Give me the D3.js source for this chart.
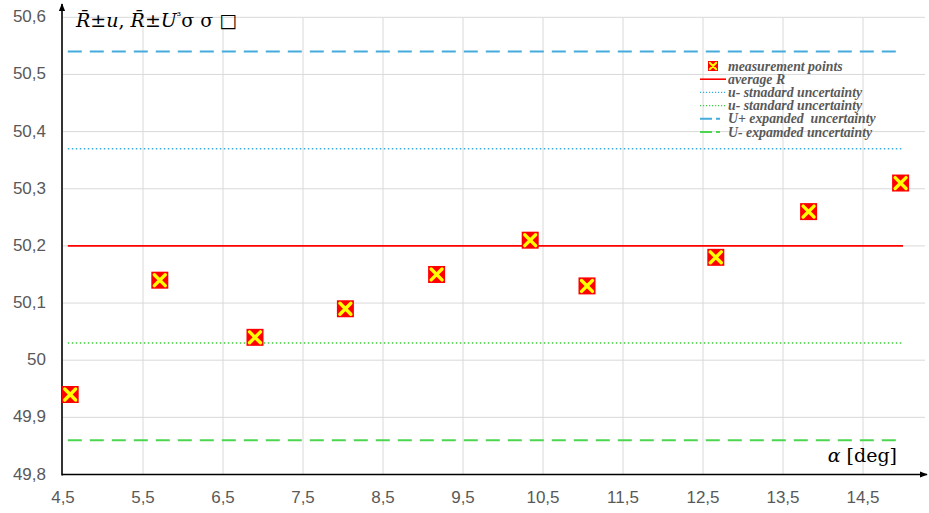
<!DOCTYPE html>
<html>
<head>
<meta charset="utf-8">
<script src="https://cdn.jsdelivr.net/npm/d3@7"></script>
<style>
  body { margin: 0; background: #fff; }
  svg { display: block; }
</style>
</head>
<body>
<div id="chart"></div>
<script>
const alpha = [4.59, 5.71, 6.9, 8.03, 9.17, 10.34, 11.05, 12.66, 13.82, 14.97];
const R     = [49.94, 50.14, 50.04, 50.09, 50.15, 50.21, 50.13, 50.18, 50.26, 50.31];

const xTicks = [4.5, 5.5, 6.5, 7.5, 8.5, 9.5, 10.5, 11.5, 12.5, 13.5, 14.5];
const yTicks = [49.8, 49.9, 50, 50.1, 50.2, 50.3, 50.4, 50.5, 50.6];

const lineSpan = [4.56, 15.0];
const refLines = [
  { name: "average R",                   value: 50.2,  color: "#ff0000", dash: null,  width: 1.6 },
  { name: "u- stnadard uncertainty",     value: 50.37, color: "#35ace0", dash: "1.5,2.5", width: 1.4 },
  { name: "u- standard uncertainty",     value: 50.03, color: "#3ccc3c", dash: "1.5,2.5", width: 1.4 },
  { name: "U+ expanded  uncertainty",    value: 50.54, color: "#45abdc", dash: "14,8", width: 2 },
  { name: "U- expamded uncertainty",     value: 49.86, color: "#4cd650", dash: "14,8", width: 2 }
];

const W = 929, H = 513;
const svg = d3.select("#chart").append("svg")
  .attr("width", W).attr("height", H);

const x = d3.scaleLinear().domain([4.5, 14.5]).range([63, 863]);
const y = d3.scaleLinear().domain([49.8, 50.6]).range([474.5, 17.3]);

// grid
svg.append("g").selectAll("line.gx")
  .data(xTicks.slice(1)).join("line")
  .attr("x1", d => x(d)).attr("x2", d => x(d))
  .attr("y1", y(50.6)).attr("y2", y(49.8))
  .attr("stroke", "#d9d9d9").attr("stroke-width", 1);

svg.append("g").selectAll("line.gy")
  .data(yTicks.slice(1)).join("line")
  .attr("x1", x(4.5)).attr("x2", 925)
  .attr("y1", d => y(d)).attr("y2", d => y(d))
  .attr("stroke", "#d9d9d9").attr("stroke-width", 1);

// tick labels
svg.append("g").selectAll("text")
  .data(yTicks).join("text")
  .attr("x", 46).attr("y", d => y(d) + 5)
  .attr("text-anchor", "end")
  .attr("font-family", "Liberation Sans, Arial, sans-serif")
  .attr("font-size", 17).attr("fill", "#595959")
  .text(d => d3.format(".1f")(d).replace(".0", "").replace(".", ","));

svg.append("g").selectAll("text")
  .data(xTicks).join("text")
  .attr("x", d => x(d)).attr("y", 503)
  .attr("text-anchor", "middle")
  .attr("font-family", "Liberation Sans, Arial, sans-serif")
  .attr("font-size", 17).attr("fill", "#595959")
  .text(d => String(d).replace(".", ","));

// reference lines
svg.append("g").selectAll("line")
  .data(refLines).join("line")
  .attr("x1", x(lineSpan[0])).attr("x2", x(lineSpan[1]))
  .attr("y1", d => y(d.value)).attr("y2", d => y(d.value))
  .attr("stroke", d => d.color)
  .attr("stroke-width", d => d.width)
  .attr("stroke-dasharray", d => d.dash);

// axes with arrows
const defs = svg.append("defs");
defs.append("marker")
  .attr("id", "arrow")
  .attr("viewBox", "0 -5 10 10")
  .attr("refX", 9).attr("refY", 0)
  .attr("markerWidth", 5).attr("markerHeight", 5)
  .attr("markerUnits", "strokeWidth")
  .attr("orient", "auto")
  .append("path").attr("d", "M0,-4L10,0L0,4").attr("fill", "#000");

svg.append("line")
  .attr("x1", x(4.5) - 1).attr("x2", 927)
  .attr("y1", y(49.8)).attr("y2", y(49.8))
  .attr("stroke", "#000").attr("stroke-width", 1.6)
  .attr("marker-end", "url(#arrow)");
svg.append("line")
  .attr("x1", x(4.5) - 1).attr("x2", x(4.5) - 1)
  .attr("y1", y(49.8) + 1).attr("y2", 4)
  .attr("stroke", "#000").attr("stroke-width", 1.6)
  .attr("marker-end", "url(#arrow)");

// markers
function drawMarker(g, cx, cy, s) {
  g.append("rect")
    .attr("x", cx - s / 2).attr("y", cy - s / 2)
    .attr("width", s).attr("height", s)
    .attr("fill", "#ff0000");
  const k = s * 0.32;
  g.append("path")
    .attr("d", `M${cx - k},${cy - k}L${cx + k},${cy + k}M${cx + k},${cy - k}L${cx - k},${cy + k}`)
    .attr("stroke", "#ffff00").attr("stroke-width", s * 0.2)
    .attr("stroke-linecap", "round");
}

const pts = svg.append("g");
alpha.forEach((a, i) => drawMarker(pts, x(a), y(R[i]), 17));

// legend
const legend = svg.append("g").attr("transform", "translate(700,66)");
const legFont = "Liberation Serif, Times New Roman, serif";
drawMarker(legend, 13, 0, 10);
legend.append("text")
  .attr("x", 28).attr("y", 4.5)
  .attr("font-family", legFont).attr("font-style", "italic").attr("font-weight", "bold")
  .attr("font-size", 13.8).attr("fill", "#595959")
  .text("measurement points");

refLines.forEach((d, i) => {
  const yy = 13.2 * (i + 1);
  legend.append("line")
    .attr("x1", 0).attr("x2", 26)
    .attr("y1", yy).attr("y2", yy)
    .attr("stroke", d.color)
    .attr("stroke-width", d.width)
    .attr("stroke-dasharray", d.dash ? (d.dash === "14,8" ? "12,4,4,10" : "1.2,1.8") : null);
  legend.append("text")
    .attr("x", 28).attr("y", yy + 4.5)
    .attr("font-family", legFont).attr("font-style", "italic").attr("font-weight", "bold")
    .attr("font-size", 13.8).attr("fill", "#595959")
    .attr("xml:space", "preserve")
    .text(d.name);
});

// axis titles
const yTitle = svg.append("text")
  .attr("x", 76).attr("y", 27)
  .attr("font-family", "DejaVu Serif, Liberation Serif, serif")
  .attr("font-size", 19).attr("fill", "#000");
yTitle.append("tspan").attr("font-style", "italic").text("R\u0304");
yTitle.append("tspan").text("\u00b1");
yTitle.append("tspan").attr("font-style", "italic").text("u");
yTitle.append("tspan").text(", ");
yTitle.append("tspan").attr("font-style", "italic").text("R\u0304");
yTitle.append("tspan").text("\u00b1");
yTitle.append("tspan").attr("font-style", "italic").text("U");
yTitle.append("tspan").attr("font-size", 11).attr("dy", -7).text("\u00b3");
yTitle.append("tspan").attr("dy", 7).text("\u03c3 \u03c3 \u25a1");

const xTitle = svg.append("text")
  .attr("x", 897).attr("y", 462)
  .attr("text-anchor", "end")
  .attr("font-family", "DejaVu Serif, Liberation Serif, serif")
  .attr("font-size", 19).attr("fill", "#000");
xTitle.append("tspan").attr("font-style", "italic").text("\u03b1");
xTitle.append("tspan").text(" [deg]");
</script>
</body>
</html>
